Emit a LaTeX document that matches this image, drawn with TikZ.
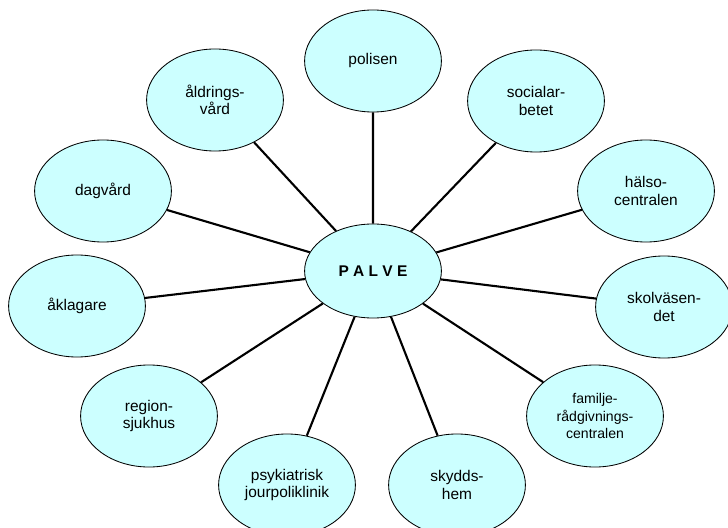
\documentclass[tikz,border=0pt]{standalone}
\usepackage{fontspec}
\setsansfont{Liberation Sans}
\usepackage{tikz}
\usetikzlibrary{shapes.geometric}
\definecolor{paleblue}{HTML}{CCFFFF}

\begin{document}
\begin{tikzpicture}[
        x=0.025cm,y=0.025cm,
        agency/.style={font=\fontsize{11}{12.5}\selectfont\sffamily,align=center,draw=black,line width=0.6pt,fill=paleblue,ellipse,inner sep=0pt,minimum width=3.42cm,minimum height=2.55cm},
        hub/.style={font=\fontsize{11}{12.5}\selectfont\sffamily\bfseries,draw=black,line width=0.6pt,fill=paleblue,ellipse,inner sep=0pt,minimum width=3.42cm,minimum height=2.35cm}
    ]
    \useasboundingbox (0,0) rectangle (728,527);
    \node[hub] (palve) at (373,256) {P A L V E};
    \node[agency] (polis) at (373,466) {polisen};
    \node[agency] (aldring) at (215,427) {åldrings-\\vård};
    \node[agency] (social) at (536,426) {socialar-\\betet};
    \node[agency] (dagvard) at (103,336) {dagvård};
    \node[agency] (halso) at (646,336) {hälso-\\centralen};
    \node[agency] (aklag) at (77,221) {åklagare};
    \node[agency] (skola) at (664,220) {skolväsen-\\det};
    \node[agency] (region) at (149,111) {region-\\sjukhus};
    \node[agency,font=\fontsize{10}{12.5}\selectfont\sffamily] (familj) at (595,111) {familje-\\rådgivnings-\\centralen};
    \node[agency] (psyk) at (287,42) {psykiatrisk\\jourpoliklinik};
    \node[agency] (skydd) at (457,42) {skydds-\\hem};
    \draw[black,line width=1.5pt] (palve)--(polis) (palve)--(aldring) (palve)--(social) (palve)--(dagvard) (palve)--(halso) (palve)--(aklag) (palve)--(skola) (palve)--(region) (palve)--(familj) (palve)--(psyk) (palve)--(skydd);
\end{tikzpicture}
\end{document}
